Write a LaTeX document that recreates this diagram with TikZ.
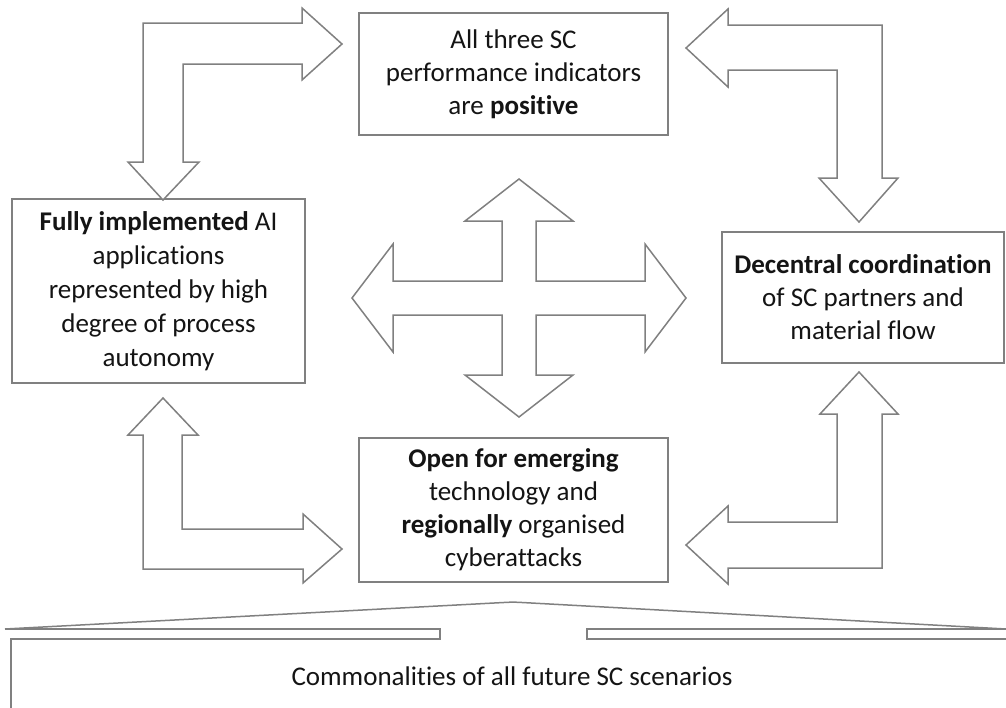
\documentclass[tikz,border=0pt]{standalone}
\usepackage{fontspec}
\setmainfont{Carlito}[Ligatures=NoCommon]
\definecolor{linegray}{RGB}{128,128,128}
\definecolor{textblack}{RGB}{20,20,20}
\begin{document}
\begin{tikzpicture}[x=1pt,y=-1pt,
  box/.style={draw=linegray, line width=1.5pt, fill=white, align=center,
    inner sep=0pt, text=textblack, font=\fontsize{27}{33}\selectfont},
  blockarrow/.style={draw=linegray, line width=1.5pt, line join=miter, fill=white},
  bracketline/.style={draw=linegray, line width=1.5pt},
]
\clip (0,0) rectangle (1006,707);
\useasboundingbox (0,0) rectangle (1006,707);

% the four scenario boxes
\node[box, minimum width=309pt, minimum height=122pt] (perf) at (513.5,74)
  {All three SC\\performance indicators\\are \textbf{positive}};
\node[box, minimum width=293pt, minimum height=184pt,
  font=\fontsize{27}{34}\selectfont] (ai) at (158.5,291)
  {\textbf{Fully implemented} AI\\applications\\represented by high\\degree of process\\autonomy};
\node[box, minimum width=282pt, minimum height=131pt] (coord) at (863,297.5)
  {\textbf{Decentral coordination}\\of SC partners and\\material flow};
\node[box, minimum width=309pt, minimum height=144pt] (open) at (513.5,510)
  {\textbf{Open for emerging}\\technology and\\\textbf{regionally} organised\\cyberattacks};

% bent double arrows between neighbouring boxes
\draw[blockarrow] (342,44) -- (302,8) -- (302,23) -- (143,23) -- (143,162)
  -- (128,162) -- (163,200) -- (199,162) -- (183,162) -- (183,64)
  -- (302,64) -- (302,80) -- cycle;
\draw[blockarrow] (686,48) -- (728,9) -- (728,25) -- (882,25) -- (882,178)
  -- (898,178) -- (859,222) -- (819,178) -- (837,178) -- (837,70)
  -- (728,70) -- (728,87) -- cycle;
\draw[blockarrow] (163,398) -- (198,435) -- (182,435) -- (182,529)
  -- (303,529) -- (303,514) -- (342,549) -- (303,583) -- (303,569)
  -- (143,569) -- (143,435) -- (128,435) -- cycle;
\draw[blockarrow] (859,372) -- (898,414) -- (882,414) -- (882,568)
  -- (728,568) -- (728,584) -- (686,545) -- (728,506) -- (728,522)
  -- (837,522) -- (837,414) -- (820,414) -- cycle;

% four-way arrow in the middle
\draw[blockarrow] (519,179) -- (573,221) -- (536,221) -- (536,281)
  -- (645,281) -- (645,244) -- (686,298) -- (645,352) -- (645,315)
  -- (536,315) -- (536,375) -- (573,375) -- (519,417) -- (465,375)
  -- (502,375) -- (502,315) -- (393,315) -- (393,352) -- (352,298)
  -- (393,244) -- (393,281) -- (502,281) -- (502,221) -- (465,221) -- cycle;

% bracket over the common base
\draw[bracketline, rounded corners=6pt] (5,629) -- (513,602) -- (1006,629);
\draw[bracketline] (5,629) -- (440,629) -- (440,639) -- (11,639) -- (11,720);
\draw[bracketline] (1010,629) -- (587,629) -- (587,639) -- (1010,639);
\node[text=textblack, font=\fontsize{27}{33}\selectfont, inner sep=0pt] (common)
  at (512,676) {Commonalities of all future SC scenarios};
\end{tikzpicture}
\end{document}
